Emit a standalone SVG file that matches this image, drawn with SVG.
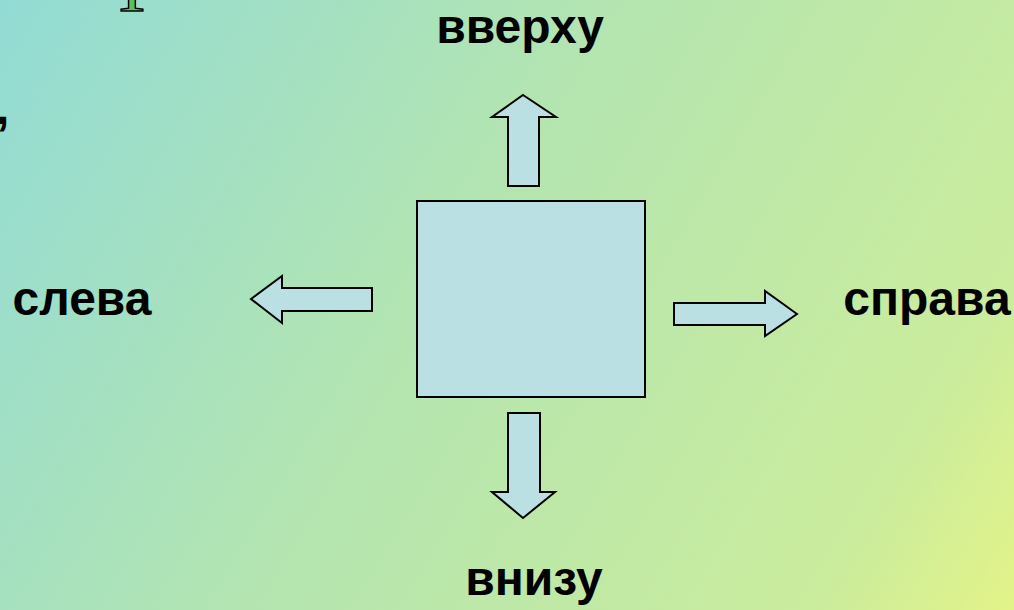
<svg xmlns="http://www.w3.org/2000/svg" width="1014" height="610" viewBox="0 0 1014 610">
<defs>
<linearGradient id="bg" x1="0" y1="0" x2="1014" y2="610" gradientUnits="userSpaceOnUse">
<stop offset="0" stop-color="#92dbd5"/>
<stop offset="0.45" stop-color="#b4e5b0"/>
<stop offset="0.85" stop-color="#caec9d"/>
<stop offset="1" stop-color="#e3f388"/>
</linearGradient>
</defs>
<style>
.shape{fill:#bae0e3;stroke:#000;stroke-width:2;stroke-linejoin:miter}
.lbl{font-family:"Liberation Sans",Arial,sans-serif;font-weight:bold;font-size:48px;fill:#000}
</style>
<rect x="0" y="0" width="1014" height="610" fill="url(#bg)"/>
<text x="132" y="11" text-anchor="middle" font-family="'Liberation Serif','Times New Roman',serif" font-size="72" fill="#5cbf5c" stroke="#000" stroke-width="1.5">Т</text>
<text x="-4" y="124" class="lbl" font-size="60">,</text>
<g id="center">
<rect class="shape" x="417" y="201" width="228" height="196"/>
</g>
<g id="connectors">
<polygon class="shape" points="523,95 556,117 539,117 539,186 508,186 508,117 492,117"/>
<polygon class="shape" points="251,299 282,276 282,288 372,288 372,311 282,311 282,323"/>
<polygon class="shape" points="797,314 765,291 765,303 674,303 674,325 765,325 765,336"/>
<polygon class="shape" points="523,518 555,492 540,492 540,413 508,413 508,492 492,492"/>
</g>
<g id="top"><text class="lbl" x="520" y="43" text-anchor="middle">вверху</text></g>
<g id="left"><text class="lbl" x="82" y="315" text-anchor="middle">слева</text></g>
<g id="right"><text class="lbl" x="927" y="315" text-anchor="middle">справа</text></g>
<g id="bottom"><text class="lbl" x="534" y="595" text-anchor="middle">внизу</text></g>
</svg>
